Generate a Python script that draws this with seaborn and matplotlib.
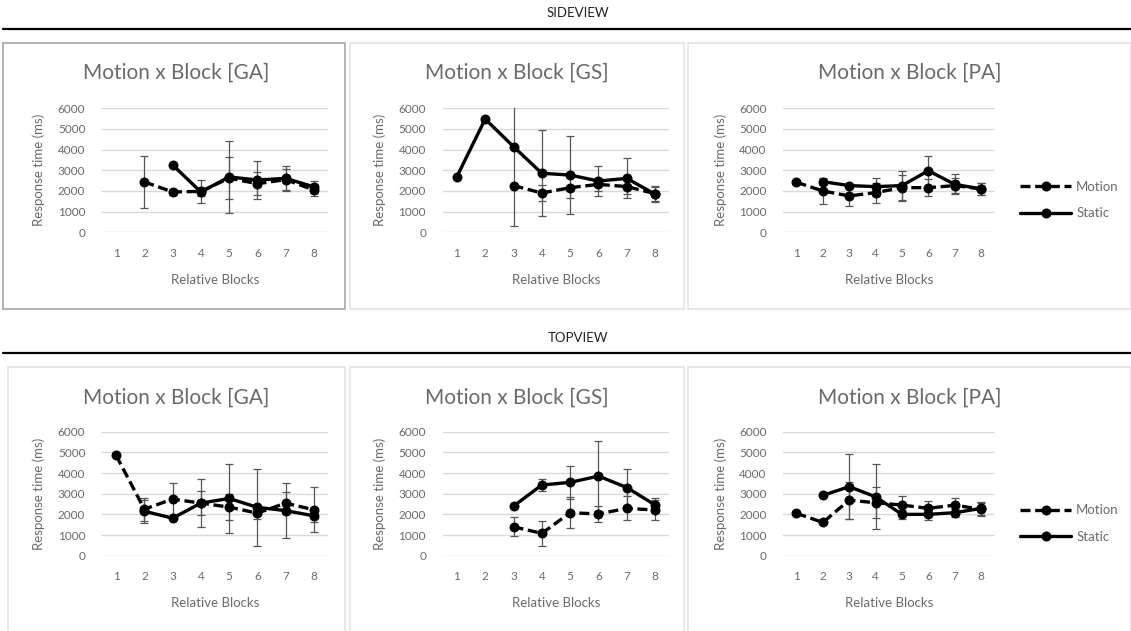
import numpy as np
import pandas as pd
import matplotlib
matplotlib.use("Agg")
import matplotlib.pyplot as plt
from matplotlib.patches import Rectangle
from matplotlib.lines import Line2D
import seaborn as sns

nan = np.nan
blocks = [1, 2, 3, 4, 5, 6, 7, 8]
titles = ["Motion x Block [GA]", "Motion x Block [GS]", "Motion x Block [PA]"]
section_labels = ["SIDEVIEW", "TOPVIEW"]
y_ticks = [0, 1000, 2000, 3000, 4000, 5000, 6000]

# SIDEVIEW
side_ga_motion = [nan, 2440, 1950, 1980, 2620, 2350, 2550, 2050]
side_ga_motion_err = [nan, 1250, 150, 550, 1000, 550, 500, 300]
side_ga_static = [nan, nan, 3260, 1950, 2680, 2530, 2610, 2200]
side_ga_static_err = [nan, nan, 0, 200, 1750, 900, 600, 300]

side_gs_motion = [nan, nan, 2260, 1900, 2160, 2320, 2210, 1870]
side_gs_motion_err = [nan, nan, 0, 380, 510, 300, 350, 350]
side_gs_static = [2690, 5480, 4145, 2855, 2770, 2480, 2610, 1840]
side_gs_static_err = [0, 0, 3835, 2080, 1900, 720, 970, 370]

side_pa_motion = [2420, 2000, 1760, 1920, 2160, 2160, 2260, 2100]
side_pa_motion_err = [0, 650, 470, 480, 630, 400, 370, 280]
side_pa_static = [nan, 2450, 2260, 2210, 2260, 2980, 2320, 2100]
side_pa_static_err = [nan, 150, 0, 440, 720, 720, 480, 280]

# TOPVIEW
top_ga_motion = [4850, 2250, 2740, 2545, 2350, 2060, 2545, 2220]
top_ga_motion_err = [0, 550, 800, 565, 620, 300, 520, 1090]
top_ga_static = [nan, 2150, 1815, 2545, 2770, 2340, 2180, 1930]
top_ga_static_err = [nan, 550, 0, 1175, 1675, 1870, 1340, 300]

top_gs_motion = [nan, nan, 1400, 1080, 2080, 2020, 2290, 2210]
top_gs_motion_err = [nan, nan, 470, 620, 740, 370, 580, 480]
top_gs_static = [nan, nan, 2400, 3420, 3550, 3850, 3300, 2450]
top_gs_static_err = [nan, nan, 0, 270, 790, 1700, 890, 350]

top_pa_motion = [2050, 1610, 2690, 2560, 2450, 2290, 2450, 2240]
top_pa_motion_err = [0, 0, 900, 750, 440, 370, 350, 300]
top_pa_static = [nan, 2920, 3340, 2850, 2000, 2000, 2080, 2290]
top_pa_static_err = [nan, 0, 1580, 1575, 200, 250, 200, 300]

panels = [
    [(side_ga_motion, side_ga_motion_err, side_ga_static, side_ga_static_err),
     (side_gs_motion, side_gs_motion_err, side_gs_static, side_gs_static_err),
     (side_pa_motion, side_pa_motion_err, side_pa_static, side_pa_static_err)],
    [(top_ga_motion, top_ga_motion_err, top_ga_static, top_ga_static_err),
     (top_gs_motion, top_gs_motion_err, top_gs_static, top_gs_static_err),
     (top_pa_motion, top_pa_motion_err, top_pa_static, top_pa_static_err)],
]

sns.set_theme(style="white")
plt.rcParams["font.family"] = ["Lato", "DejaVu Sans"]

W, H = 1131, 631
fig = plt.figure(figsize=(W / 100, H / 100), dpi=100)
fig.patch.set_facecolor("white")

TXT = "#6a6a6a"
GRID = "#d9d9d9"


def fx(px):
    return px / W


def fy(py):
    return 1 - py / H


# Section headers and rules
header_y = [13, 338]
rule_y = [29, 353]
for lab, hy, ry in zip(section_labels, header_y, rule_y):
    fig.text(fx(578), fy(hy), lab, ha="center", va="center", fontsize=9.5,
             color="#222222")
    fig.add_artist(Line2D([fx(3), fx(1131)], [fy(ry), fy(ry)], color="black", lw=1.6,
                          transform=fig.transFigure))

# Panel boxes (chart area borders)
boxes = [[(3, 43, 345, 309, "#a6a6a6"), (350, 43, 684, 309, "#e3e3e3"), (688, 43, 1131, 309, "#e3e3e3")],
         [(8, 367, 345, 640, "#e3e3e3"), (350, 367, 684, 640, "#e3e3e3"), (688, 367, 1131, 640, "#e3e3e3")]]
for row in boxes:
    for (x0, y0, x1, y1, c) in row:
        fig.add_artist(Rectangle((fx(x0), fy(y1)), fx(x1 - x0), (y1 - y0) / H, fill=False,
                                 edgecolor=c, lw=1.2, transform=fig.transFigure))

# Axes positions in pixels: (left, top of 6000 grid, width)
ax_lefts = [102, 442.7, 783.3]
ax_widths = [226, 226.6, 211]
ax_tops = [108.3, 431.7]
ax_h = 124
title_y = [73, 398]
box_centers = [176, 517, 910]

dash_style = {"Motion": (3, 1.4), "Static": ""}

for r in range(2):
    for c in range(3):
        m, me, s, se = panels[r][c]
        left, top, w = ax_lefts[c], ax_tops[r], ax_widths[c]
        ax = fig.add_axes([fx(left), fy(top + ax_h), w / W, ax_h / H])
        df = pd.DataFrame({
            "block": blocks * 2,
            "rt": list(m) + list(s),
            "err": list(me) + list(se),
            "cond": ["Motion"] * 8 + ["Static"] * 8,
        })
        d = df.dropna(subset=["rt"])
        # error bars
        for _, row in d.iterrows():
            if row["err"] and not np.isnan(row["err"]) and row["err"] > 0:
                ax.errorbar(row["block"], row["rt"], yerr=row["err"], fmt="none",
                            ecolor="#555555", elinewidth=0.9, capsize=3, capthick=0.9, zorder=2)
        sns.lineplot(data=d, x="block", y="rt", style="cond", style_order=["Motion", "Static"],
                     dashes=dash_style, markers={"Motion": "o", "Static": "o"},
                     color="black", lw=2.4, markersize=7.2, markeredgewidth=0,
                     ax=ax, legend=(c == 2), zorder=3)
        ax.set_xlim(0.5, 8.5)
        ax.set_ylim(0, 6000)
        ax.set_xticks(blocks)
        ax.set_yticks(y_ticks)
        ax.tick_params(axis="both", length=0, labelsize=8.5, labelcolor=TXT)
        ax.tick_params(axis="y", pad=12)
        ax.tick_params(axis="x", pad=11)
        ax.grid(axis="y", color=GRID, lw=1)
        ax.set_axisbelow(True)
        for sp in ax.spines.values():
            sp.set_visible(False)
        ax.set_facecolor("none")
        ax.set_xlabel("Relative Blocks", fontsize=9.5, color=TXT, labelpad=11)
        ax.set_ylabel("Response time (ms)", fontsize=9.5, color=TXT, labelpad=9)
        fig.text(fx(box_centers[c]), fy(title_y[r]), titles[c], ha="center", va="center",
                 fontsize=15, color=TXT, fontweight="normal")
        if c == 2:
            handles, labels = ax.get_legend_handles_labels()
            ax.get_legend().remove()
            leg_y = (186 + 214) / 2 if r == 0 else (509 + 538) / 2
            fig.legend(handles, labels, loc="center left",
                       bbox_to_anchor=(fx(1020), fy(leg_y)), frameon=False,
                       fontsize=9.5, labelcolor=TXT, handlelength=3.9, handletextpad=0.35,
                       labelspacing=1.1, borderaxespad=0, borderpad=0)

fig.savefig("out.png", dpi=100, facecolor="white")
